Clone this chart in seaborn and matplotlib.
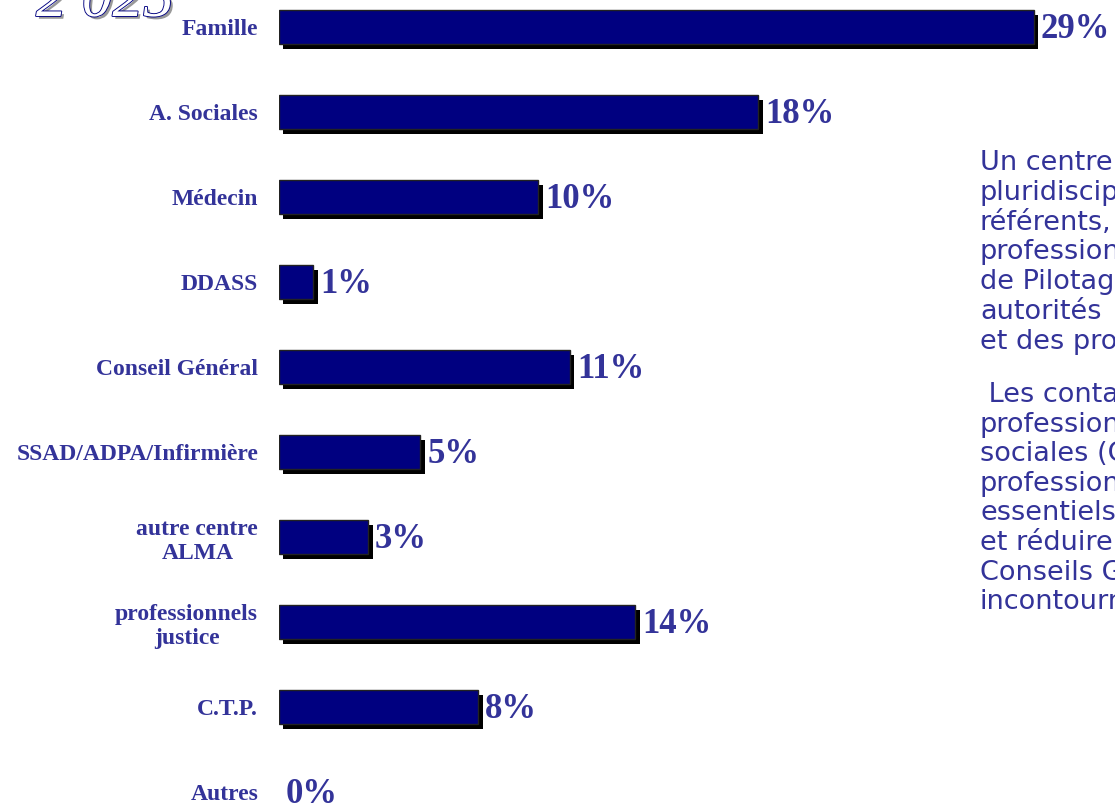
import matplotlib
matplotlib.use("Agg")
import matplotlib.pyplot as plt
import matplotlib.patheffects as pe
import seaborn as sns
import pandas as pd

categories = ["Famille", "A. Sociales", "Médecin", "DDASS", "Conseil Général",
              "SSAD/ADPA/Infirmière", "autre centre\nALMA", "professionnels\njustice",
              "C.T.P.", "Autres"]
values = [28.8, 18.3, 9.9, 1.3, 11.1, 5.4, 3.4, 13.6, 7.6, 0.0]
value_labels = ["29%", "18%", "10%", "1%", "11%", "5%", "3%", "14%", "8%", "0%"]

side_text_1 = ["Un centre ALMA", "pluridisciplinaire", "référents,", "professionnels",
               "de Pilotage", "autorités", "et des professionnels"]
side_text_2 = [" Les contacts", "professionnels", "sociales (CCAS)", "professionnels",
               "essentiels", "et réduire", "Conseils Généraux", "incontournables"]

navy = "#000080"
text_col = "#333399"

sns.set_style("white")

W, H = 1115, 805
fig = plt.figure(figsize=(W / 100, H / 100), dpi=100)
ax = fig.add_axes([279 / W, 0, (W - 279) / W, 1])

df = pd.DataFrame({"cat": categories, "val": values})
sns.barplot(data=df, x="val", y="cat", color=navy, saturation=1, width=0.4,
            edgecolor="#222222", linewidth=1, ax=ax)

for p in ax.patches:
    if p.get_width() > 0:
        p.set_path_effects([pe.SimplePatchShadow(offset=(3.2, -3.8), shadow_rgbFace="black", alpha=1),
                            pe.Normal()])
    else:
        p.set_visible(False)

for i, (v, lab) in enumerate(zip(values, value_labels)):
    ax.annotate(lab, xy=(v, i), xytext=(5, -2), textcoords="offset points",
                ha="left", va="center", fontsize=25, fontweight="bold",
                family="Liberation Serif", color=text_col)

ax.set_xlim(0, (W - 279) / 26.2)
ax.set_ylim(9.153, -0.318)
ax.set_xlabel("")
ax.set_ylabel("")
ax.set_xticks([])
sns.despine(ax=ax, left=True, bottom=True)
ax.tick_params(axis="y", length=0, pad=15)
for t in ax.get_yticklabels():
    t.set_fontfamily("Liberation Serif")
    t.set_fontweight("bold")
    t.set_fontsize(17)
    t.set_color(text_col)
    t.set_multialignment("center")

# outlined title cut at the top
fig.text(36 / W, 1 - 16 / H, "2 025", fontsize=44, style="italic", family="Liberation Serif",
         color="white", va="baseline", ha="left",
         path_effects=[pe.withSimplePatchShadow(offset=(2, -2), shadow_rgbFace="#999999", alpha=1),
                       pe.withStroke(linewidth=1.3, foreground=navy)])

y = 163
for line in side_text_1:
    fig.text(980 / W, 1 - y / H, line, fontsize=19.5, family="DejaVu Sans",
             color=text_col, va="center", ha="left")
    y += 29.8
y = 395
for line in side_text_2:
    fig.text(980 / W, 1 - y / H, line, fontsize=19.5, family="DejaVu Sans",
             color=text_col, va="center", ha="left")
    y += 29.6

fig.savefig("out.png", dpi=100)
